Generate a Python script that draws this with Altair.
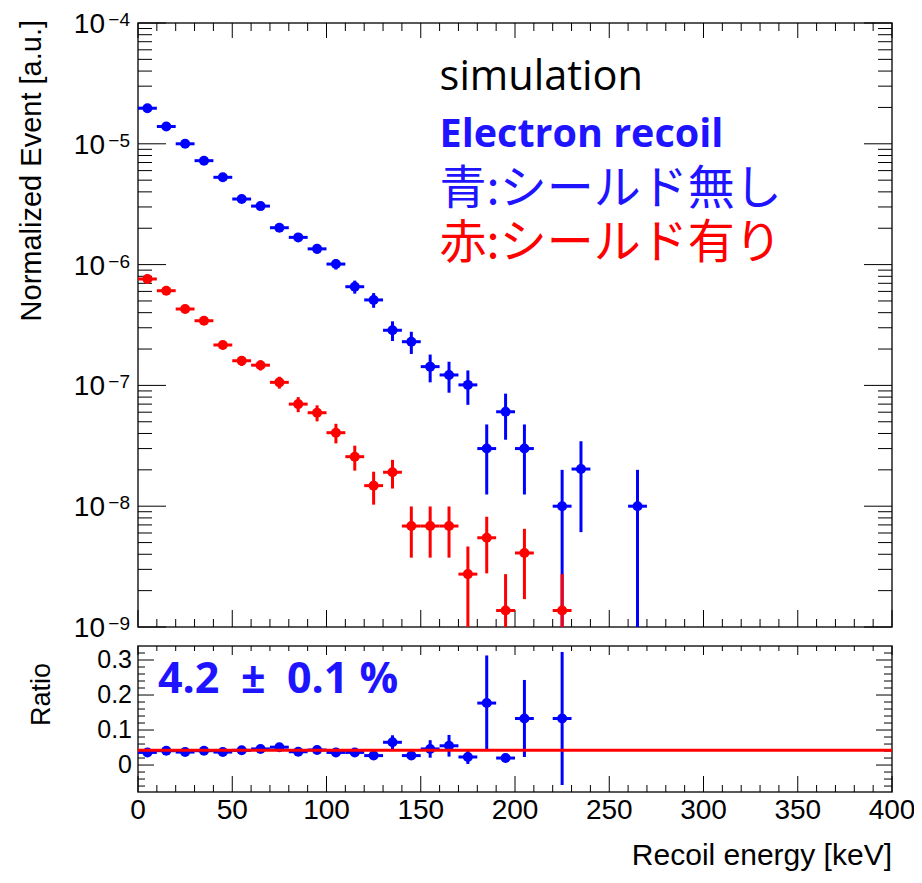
import altair as alt
import pandas as pd

# ---------------- data ----------------
energy_blue = [5, 15, 25, 35, 45, 55, 65, 75, 85, 95, 105, 115, 125, 135, 145,
               155, 165, 175, 185, 195, 205, 225, 235, 265]
blue_value = [1.97e-5, 1.39e-5, 1.0e-5, 7.25e-6, 5.28e-6, 3.49e-6, 3.05e-6, 2.02e-6,
              1.68e-6, 1.35e-6, 1.01e-6, 6.56e-7, 5.1e-7, 2.86e-7, 2.3e-7, 1.43e-7,
              1.22e-7, 1.01e-7, 3.0e-8, 6.05e-8, 3.0e-8, 1.0e-8, 2.03e-8, 1.0e-8]
blue_error = [4.4e-7, 3.7e-7, 3.2e-7, 2.7e-7, 2.3e-7, 1.9e-7, 1.7e-7, 1.4e-7,
              1.3e-7, 1.2e-7, 1.0e-7, 8.1e-8, 7.1e-8, 5.3e-8, 4.8e-8, 3.7e-8,
              3.5e-8, 3.2e-8, 1.75e-8, 2.5e-8, 1.75e-8, 1.0e-8, 1.42e-8, 1.0e-8]

energy_red = [5, 15, 25, 35, 45, 55, 65, 75, 85, 95, 105, 115, 125, 135, 145,
              155, 165, 175, 185, 195, 205, 225]
red_value = [7.6e-7, 6.08e-7, 4.29e-7, 3.43e-7, 2.16e-7, 1.6e-7, 1.47e-7, 1.06e-7,
             7.0e-8, 5.94e-8, 4.06e-8, 2.57e-8, 1.48e-8, 1.91e-8, 6.85e-9, 6.85e-9,
             6.85e-9, 2.74e-9, 5.48e-9, 1.37e-9, 4.1e-9, 1.37e-9]
red_error = [3.2e-8, 2.9e-8, 2.4e-8, 2.2e-8, 1.7e-8, 1.5e-8, 1.4e-8, 1.2e-8,
             1.0e-8, 9.0e-9, 7.5e-9, 6.0e-9, 4.5e-9, 5.1e-9, 3.1e-9, 3.1e-9,
             3.1e-9, 1.9e-9, 2.7e-9, 1.37e-9, 2.4e-9, 1.37e-9]

energy_ratio = [5, 15, 25, 35, 45, 55, 65, 75, 85, 95, 105, 115, 125, 135, 145,
                155, 165, 175, 185, 195, 205, 225]
ratio_value = [0.036, 0.041, 0.037, 0.041, 0.037, 0.042, 0.046, 0.051, 0.038, 0.043,
               0.036, 0.036, 0.027, 0.065, 0.027, 0.046, 0.055, 0.023, 0.177, 0.020,
               0.133, 0.133]
ratio_error = [0.002, 0.002, 0.002, 0.003, 0.003, 0.004, 0.005, 0.007, 0.006, 0.007,
               0.008, 0.010, 0.009, 0.020, 0.008, 0.025, 0.031, 0.020, 0.136, 0.012,
               0.110, 0.190]
fit_value = [0.042]
bin_half_width = 5

# axis ranges, ticks and tick labels
x_range = [0, 400]
top_range = [1e-9, 1e-4]
ratio_range = [-0.077, 0.34]
x_major = [0, 50, 100, 150, 200, 250, 300, 350, 400]
x_major_labels = ["0", "50", "100", "150", "200", "250", "300", "350", "400"]
x_minor = [v for v in range(0, 401, 10) if v % 50]
y_decades = [1e-9, 1e-8, 1e-7, 1e-6, 1e-5, 1e-4]
y_exponents = ["\u22129", "\u22128", "\u22127", "\u22126", "\u22125", "\u22124"]
y_minor = [k * 10.0 ** d for d in range(-9, -4) for k in range(2, 10)]
ratio_major = [0, 0.1, 0.2, 0.3]
ratio_major_labels = ["0", "0.1", "0.2", "0.3"]
ratio_minor = [-0.06, -0.04, -0.02, 0.02, 0.04, 0.06, 0.08, 0.12, 0.14, 0.16, 0.18,
               0.22, 0.24, 0.26, 0.28, 0.32]

top_title = "Normalized Event [a.u.]"
ratio_title = "Ratio"
x_title = "Recoil energy [keV]"

top_texts = ["simulation", "Electron recoil", "青:シールド無し", "赤:シールド有り"]
top_text_x = [160, 160, 160, 160]
top_text_y = [2.79e-5, 9.41e-6, 3.17e-6, 1.134e-6]
ratio_text = ["4.2\u2002\u00b1\u20020.1 %"]
ratio_text_x = [10.6]
ratio_text_y = [0.206]

# ---------------- layout constants ----------------
W = 754                 # plot width
H_TOP = 604             # upper panel height
GAP = 19                # gap between panels
H_RAT = 146             # ratio panel height
R0 = H_TOP + GAP        # ratio panel top (pixels from view top)
R1 = R0 + H_RAT         # ratio panel bottom
BLUE, RED = "#0000ff", "#ff0000"
TXT_BLUE = "#1e14ff"
AX_FONT = "Liberation Sans"
LAT_FONT = "Open Sans"
JP_FONT = "Noto Sans CJK JP"

xs = alt.Scale(domain=x_range, nice=False, zero=False)
ys = alt.Scale(type="log", domain=top_range, range=[H_TOP, 0], nice=False, clamp=True)
rs = alt.Scale(domain=ratio_range, range=[R1, R0], nice=False, zero=False, clamp=True)


def hist_df(e, v, err):
    return pd.DataFrame({
        "e": e, "v": v,
        "xlo": [a - bin_half_width for a in e],
        "xhi": [a + bin_half_width for a in e],
        "lo": [a - b for a, b in zip(v, err)],
        "hi": [a + b for a, b in zip(v, err)],
    })


def points(df, color, yscale, floor=None):
    d = df.copy()
    if floor is not None:
        d["lo"] = d["lo"].clip(lower=floor)
    base = alt.Chart(d)
    h = base.mark_rule(color=color, strokeWidth=3).encode(
        x=alt.X("xlo:Q", scale=xs, axis=None), x2="xhi:Q",
        y=alt.Y("v:Q", scale=yscale, axis=None))
    v = base.mark_rule(color=color, strokeWidth=3).encode(
        x=alt.X("e:Q", scale=xs, axis=None),
        y=alt.Y("lo:Q", scale=yscale, axis=None), y2="hi:Q")
    p = base.mark_circle(color=color, size=100, opacity=1).encode(
        x=alt.X("e:Q", scale=xs, axis=None),
        y=alt.Y("v:Q", scale=yscale, axis=None))
    return [h, v, p]


def frame(yscale, yr):
    d = pd.DataFrame({"x0": [x_range[0]], "x1": [x_range[1]], "y0": [yr[0]], "y1": [yr[1]]})
    return alt.Chart(d).mark_rect(fill=None, stroke="#222222", strokeWidth=1.5).encode(
        x=alt.X("x0:Q", scale=xs, axis=None), x2="x1:Q",
        y=alt.Y("y0:Q", scale=yscale, axis=None), y2="y1:Q")


def xticks(vals, length, y_edge, down):
    c = alt.Chart(pd.DataFrame({"t": vals})).mark_rule(color="black", strokeWidth=1)
    return c.encode(x=alt.X("t:Q", scale=xs, axis=None), y=alt.value(y_edge),
                    y2=alt.value(y_edge + length if down else y_edge - length))


def yticks(vals, length, yscale, right=False):
    c = alt.Chart(pd.DataFrame({"t": vals})).mark_rule(color="black", strokeWidth=1)
    if right:
        return c.encode(y=alt.Y("t:Q", scale=yscale, axis=None), x=alt.value(W),
                        x2=alt.value(W - length))
    return c.encode(y=alt.Y("t:Q", scale=yscale, axis=None), x=alt.value(0),
                    x2=alt.value(length))


def ylabels(vals, texts, yscale, xpix, size, dy=0):
    return alt.Chart(pd.DataFrame({"t": vals, "s": texts})).mark_text(
        align="right", baseline="middle", font=AX_FONT, fontSize=size, color="black",
        dy=dy).encode(y=alt.Y("t:Q", scale=yscale, axis=None), x=alt.value(xpix),
                      text="s:N")


def vtitle(text, xpix, ypix, size):
    return alt.Chart(pd.DataFrame({"s": [text]})).mark_text(
        align="right", baseline="alphabetic", angle=270, font=AX_FONT, fontSize=size,
        color="black").encode(x=alt.value(xpix), y=alt.value(ypix), text="s:N")


# ---------------- upper panel ----------------
blue_df = hist_df(energy_blue, blue_value, blue_error)
red_df = hist_df(energy_red, red_value, red_error)

exp_layer = alt.Chart(pd.DataFrame({"d": y_decades, "s": y_exponents})).mark_text(
    align="right", baseline="top", font=AX_FONT, fontSize=19, color="black", dy=-12
).encode(y=alt.Y("d:Q", scale=ys, axis=None), x=alt.value(-8), text="s:N")

text_styles = [
    dict(font=LAT_FONT, fontSize=41.5, color="black", fontWeight="normal"),
    dict(font=LAT_FONT, fontSize=39.5, color=TXT_BLUE, fontWeight="bold"),
    dict(font=JP_FONT, fontSize=47, color=TXT_BLUE, fontWeight="normal"),
    dict(font=JP_FONT, fontSize=47, color=RED, fontWeight="normal"),
]
text_layers = []
for i, style in enumerate(text_styles):
    d = pd.DataFrame({"x": [top_text_x[i]], "y": [top_text_y[i]], "s": [top_texts[i]]})
    text_layers.append(alt.Chart(d).mark_text(align="left", baseline="alphabetic", **style)
                       .encode(x=alt.X("x:Q", scale=xs, axis=None),
                               y=alt.Y("y:Q", scale=ys, axis=None), text="s:N"))

top_layers = ([frame(ys, top_range),
               xticks(x_major, 17, H_TOP, down=False), xticks(x_minor, 8, H_TOP, down=False),
               xticks(x_major, 15, 0, down=True), xticks(x_minor, 8, 0, down=True),
               yticks(y_decades, 28, ys), yticks(y_minor, 14, ys),
               yticks(y_decades, 28, ys, right=True), yticks(y_minor, 14, ys, right=True)]
              + points(blue_df, BLUE, ys, floor=1e-12)
              + points(red_df, RED, ys, floor=1e-12)
              + [ylabels(y_decades, ["10"] * len(y_decades), ys, -33, 28, dy=2),
                 exp_layer, vtitle(top_title, -97, -3, 29)]
              + text_layers)

# ---------------- ratio panel ----------------
ratio_df = hist_df(energy_ratio, ratio_value, ratio_error)

fit_layer = alt.Chart(pd.DataFrame({"f": fit_value})).mark_rule(
    color=RED, strokeWidth=3).encode(y=alt.Y("f:Q", scale=rs, axis=None))

ratio_text_layer = alt.Chart(pd.DataFrame({"x": ratio_text_x, "y": ratio_text_y,
                                           "s": ratio_text})).mark_text(
    align="left", baseline="alphabetic", font=LAT_FONT, fontSize=43, fontWeight="bold",
    color=TXT_BLUE).encode(x=alt.X("x:Q", scale=xs, axis=None),
                           y=alt.Y("y:Q", scale=rs, axis=None), text="s:N")

xlabel_layer = alt.Chart(pd.DataFrame({"t": x_major, "s": x_major_labels})).mark_text(
    align="center", baseline="top", font=AX_FONT, fontSize=28, color="black"
).encode(x=alt.X("t:Q", scale=xs, axis=None), y=alt.value(R1 + 5), text="s:N")

xtitle_layer = alt.Chart(pd.DataFrame({"s": [x_title]})).mark_text(
    align="right", baseline="alphabetic", font=AX_FONT, fontSize=30, color="black"
).encode(x=alt.value(W), y=alt.value(R1 + 73), text="s:N")

ratio_layers = ([frame(rs, ratio_range),
                 xticks(x_major, 16, R1, down=False), xticks(x_minor, 7, R1, down=False),
                 xticks(x_major, 9, R0, down=True), xticks(x_minor, 5, R0, down=True),
                 yticks(ratio_major, 16, rs), yticks(ratio_minor, 7, rs),
                 yticks(ratio_major, 16, rs, right=True),
                 yticks(ratio_minor, 8, rs, right=True)]
                + points(ratio_df, BLUE, rs)
                + [fit_layer, ratio_text_layer,
                   ylabels(ratio_major, ratio_major_labels, rs, -6, 25),
                   vtitle(ratio_title, -88, R0 + 17, 27), xlabel_layer, xtitle_layer])

chart = alt.layer(*(top_layers + ratio_layers)).resolve_scale(y="independent").properties(
    width=W, height=R1,
    autosize=alt.AutoSizeParams(type="none"),
    padding={"left": 130, "top": 15, "right": 22, "bottom": 83},
    background="white",
).configure_view(strokeWidth=0, stroke=None)

chart.save("out.html", embed_options={"renderer": "svg", "actions": False})
